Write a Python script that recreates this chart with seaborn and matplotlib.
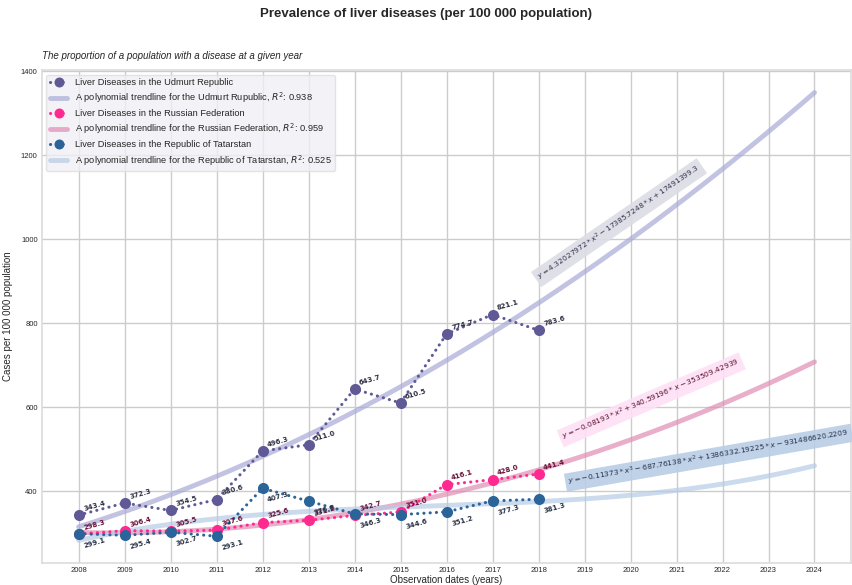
import numpy as np
import pandas as pd
import matplotlib
matplotlib.use("Agg")
import matplotlib.pyplot as plt
import seaborn as sns

years = [2008, 2009, 2010, 2011, 2012, 2013, 2014, 2015, 2016, 2017, 2018]
udmurt = [343.4, 372.3, 354.5, 380.6, 496.3, 511.0, 643.7, 610.5, 774.7, 821.1, 783.6]
russia = [298.3, 306.4, 305.5, 307.6, 325.6, 331.2, 342.7, 351.0, 416.1, 428.0, 441.4]
tatarstan = [299.1, 295.4, 302.7, 293.1, 407.3, 376.8, 346.3, 344.6, 351.2, 377.3, 381.3]

forecast_end = 2024
tick_years = list(range(2008, 2025))

series = [
    dict(name="Liver Diseases in the Udmurt Republic",
         trend="A polynomial trendline for the Udmurt Rupublic, $R^2$: 0.938",
         values=udmurt, order=2,
         eq=r"$y = 4.32027972 * x^2 - 17385.7248 * x + 17491399.3$",
         color="#5f5a96", trend_color="#a9a9d6", label_color="#2f2f44",
         box="#dcdce6", eq_color="#33334d",
         eq_pos=(2019.75, 1040), eq_rot=34.5, offset=(3, 3)),
    dict(name="Liver Diseases in the Russian Federation",
         trend="A polynomial trendline for the Russian Federation, $R^2$: 0.959",
         values=russia, order=2,
         eq=r"$y = -0.08193 * x^2 + 340.59196 * x - 353509.42939$",
         color="#ff2a90", trend_color="#e08cb4", label_color="#6a1038",
         box="#fde0f4", eq_color="#5a1030",
         eq_pos=(2020.45, 618), eq_rot=23.2, offset=(3, 3)),
    dict(name="Liver Diseases in the Republic of Tatarstan",
         trend="A polynomial trendline for the Republic of Tatarstan, $R^2$: 0.525",
         values=tatarstan, order=3,
         eq=r"$y = -0.11373 * x^3 - 687.76138 * x^2 + 1386332.19225 * x - 931486620.2209$",
         color="#2b6499", trend_color="#b5cbe4", label_color="#2a3448",
         box="#b9cde5", eq_color="#26324a",
         eq_pos=(2021.7, 480), eq_rot=9.9, offset=(3, -10)),
]

sns.set_theme(style="whitegrid")
plt.rcParams["font.family"] = ["Liberation Sans", "DejaVu Sans"]
plt.rcParams["mathtext.fontset"] = "dejavusans"
plt.rcParams["lines.dash_capstyle"] = "round"

fig, ax = plt.subplots(figsize=(8.53, 5.85), dpi=100)
fig.subplots_adjust(left=0.049, right=0.998, top=0.88, bottom=0.038)

grid_x = np.linspace(years[0], forecast_end, 200)
for s in series:
    df = pd.DataFrame({"year": years, "value": s["values"]})
    sns.lineplot(data=df, x="year", y="value", ax=ax, color=s["color"],
                 linestyle=(0, (0.05, 2.0)), linewidth=2.2, marker="o",
                 markersize=8, markeredgewidth=0, label=s["name"], zorder=3)
    t = np.array(years) - 2013
    coef = np.polyfit(t, s["values"], s["order"])
    trend_df = pd.DataFrame({"year": grid_x,
                             "value": np.polyval(coef, grid_x - 2013)})
    sns.lineplot(data=trend_df, x="year", y="value", ax=ax,
                 color=s["trend_color"], linewidth=3.5, alpha=0.7,
                 label=s["trend"], zorder=2)
    for x, v in zip(years, s["values"]):
        ax.annotate(f"{v:.1f}", (x, v), xytext=s["offset"],
                    textcoords="offset points", fontsize=5, fontweight="bold",
                    color=s["label_color"], rotation=16, zorder=5,
                    family="DejaVu Sans")
    ax.text(*s["eq_pos"], s["eq"], rotation=s["eq_rot"], fontsize=5.4,
            ha="center", va="center", color=s["eq_color"],
            rotation_mode="anchor",
            bbox=dict(boxstyle="square,pad=0.4", fc=s["box"], ec="none",
                      alpha=0.9), zorder=4)

ax.set_xticks(tick_years)
ax.set_xticklabels([str(y) for y in tick_years])
ax.tick_params(axis="both", labelsize=5.5, pad=3, length=0)
ax.set_xlabel("Observation dates (years)", fontsize=7, labelpad=1)
ax.set_ylabel("Cases per 100 000 population", fontsize=7, labelpad=6)
for sp in ax.spines.values():
    sp.set_color("#dddddd")

ax.set_title("The proportion of a population with a disease at a given year",
             loc="left", fontsize=7, style="italic", pad=8)
fig.suptitle("Prevalence of liver diseases (per 100 000 population)",
             fontsize=9.5, fontweight="bold", y=0.987)

ax.legend(loc="upper left", fontsize=6.7, frameon=True, facecolor="#f0f0f5",
          edgecolor="#dddddd", handlelength=1.9, borderpad=0.35,
          labelspacing=0.4, markerscale=0.9)

fig.savefig("out.png", dpi=100)
